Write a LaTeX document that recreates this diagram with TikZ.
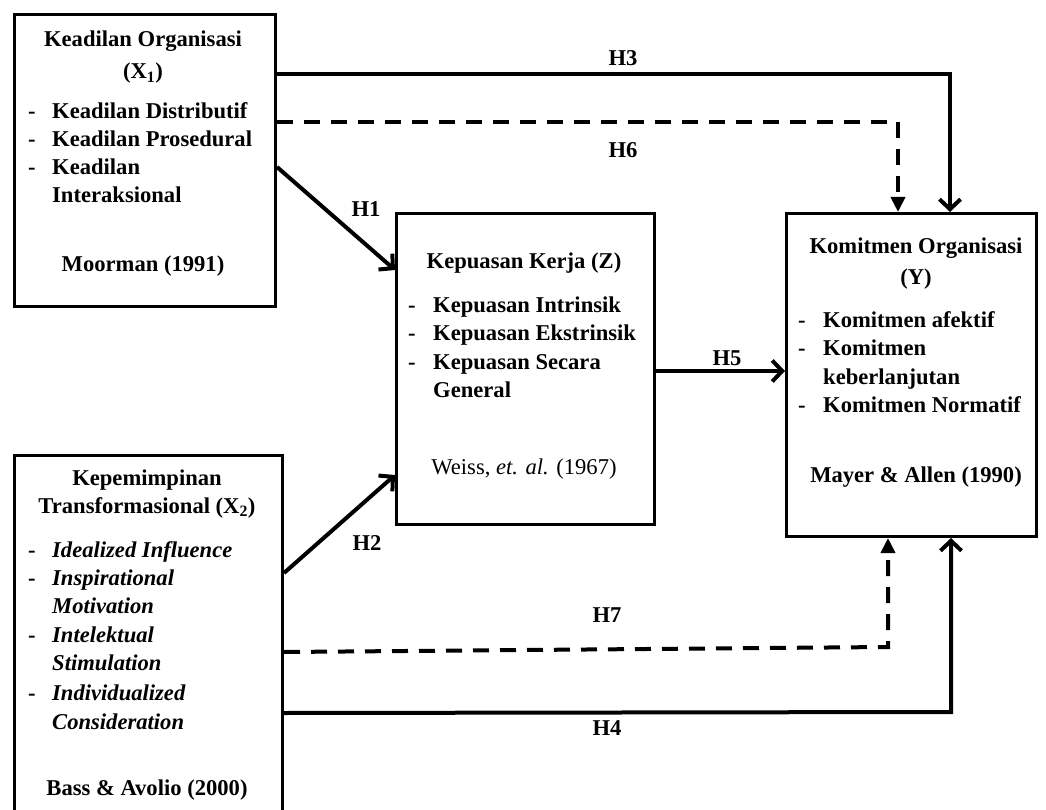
\documentclass[tikz,border=0pt]{standalone}
\usepackage{fontspec}
\setmainfont{Liberation Serif}
\usetikzlibrary{arrows.meta}
\begin{document}
\begin{tikzpicture}[x=1pt,y=-1pt,
  box/.style={draw, line width=3pt, inner sep=0pt, anchor=north west},
  txt/.style={font=\fontsize{22.6}{28}\selectfont\bfseries, inner sep=0pt},
  ttl/.style={txt, anchor=base},
  itm/.style={txt, anchor=base west},
  iti/.style={txt, anchor=base west, font=\fontsize{22.6}{28}\selectfont\bfseries\itshape},
  lbl/.style={txt, anchor=center},
  arr/.style={line width=4pt, -{Straight Barb[length=10pt,width=21pt]}},
  darr/.style={line width=4pt, dash pattern=on 16pt off 11pt, -{Triangle[length=15pt,width=14pt]}}
]
\useasboundingbox (0,0) rectangle (1046,810);
% boxes
\node[box, minimum width=261pt, minimum height=292pt] (x1) at (13,13) {};
\node[box, minimum width=268pt, minimum height=372pt] (x2) at (13,454) {};
\node[box, minimum width=258pt, minimum height=311pt] (z) at (395,212) {};
\node[box, minimum width=250pt, minimum height=323pt] (y) at (785,212) {};
% X1 text
\node[ttl] (x1t1) at (143,47) {Keadilan Organisasi};
\node[ttl] (x1t2) at (143,79) {(X\textsubscript{1})};
\node[itm] (x1d1) at (28,119) {-};
\node[itm] (x1i1) at (52,119) {Keadilan Distributif};
\node[itm] (x1d2) at (28,147) {-};
\node[itm] (x1i2) at (52,147) {Keadilan Prosedural};
\node[itm] (x1d3) at (28,175) {-};
\node[itm] (x1i3) at (52,175) {Keadilan};
\node[itm] (x1i4) at (52,203) {Interaksional};
\node[ttl] (x1s) at (143,272) {Moorman (1991)};
% X2 text
\node[ttl] (x2t1) at (147,485) {Kepemimpinan};
\node[ttl] (x2t2) at (147,513) {Transformasional (X\textsubscript{2})};
\node[itm] (x2d1) at (28,557) {-};
\node[iti] (x2i1) at (52,557) {Idealized Influence};
\node[itm] (x2d2) at (28,585) {-};
\node[iti] (x2i2) at (52,585) {Inspirational};
\node[iti] (x2i3) at (52,613) {Motivation};
\node[itm] (x2d3) at (28,642) {-};
\node[iti] (x2i4) at (52,642) {Intelektual};
\node[iti] (x2i5) at (52,670) {Stimulation};
\node[itm] (x2d4) at (28,700) {-};
\node[iti] (x2i6) at (52,700) {Individualized};
\node[iti] (x2i7) at (52,729) {Consideration};
\node[ttl] (x2s) at (147,795) {Bass \& Avolio (2000)};
% Z text
\node[ttl] (zt) at (524,269) {Kepuasan Kerja (Z)};
\node[itm] (zd1) at (408,312) {-};
\node[itm] (zi1) at (433,312) {Kepuasan Intrinsik};
\node[itm] (zd2) at (408,340) {-};
\node[itm] (zi2) at (433,340) {Kepuasan Ekstrinsik};
\node[itm] (zd3) at (408,369) {-};
\node[itm] (zi3) at (433,369) {Kepuasan Secara};
\node[itm] (zi4) at (433,397) {General};
\node[ttl, font=\fontsize{22.6}{28}\selectfont] (zs) at (524,474) {Weiss, \textit{et. al.} (1967)};
% Y text
\node[ttl] (yt1) at (916,254) {Komitmen Organisasi};
\node[ttl] (yt2) at (916,284) {(Y)};
\node[itm] (yd1) at (798,327) {-};
\node[itm] (yi1) at (823,327) {Komitmen afektif};
\node[itm] (yd2) at (798,355) {-};
\node[itm] (yi2) at (823,355) {Komitmen};
\node[itm] (yi3) at (823,384) {keberlanjutan};
\node[itm] (yd3) at (798,412) {-};
\node[itm] (yi4) at (823,412) {Komitmen Normatif};
\node[ttl] (ys) at (916,482) {Mayer \& Allen (1990)};
% path corner coordinates
\coordinate (h3b) at (950,74);
\coordinate (h6b) at (898,122);
\coordinate (h1s) at (274,167);
\coordinate (h1e) at (395,270);
\coordinate (h2s) at (281,573);
\coordinate (h2e) at (395,475);
\coordinate (h5) at (700,371);
\coordinate (h7a) at (281,652);
\coordinate (h7b) at (888,647);
\coordinate (h4a) at (281,713);
\coordinate (h4b) at (951,712);
% connectors
\draw[arr] (x1.east |- h3b) -- (h3b) -- (h3b |- y.north);
\draw[darr] (x1.east |- h6b) -- (h6b) -- (h6b |- y.north);
\draw[arr] (x1.east |- h1s) -- (z.west |- h1e);
\draw[arr] (x2.east |- h2s) -- (z.west |- h2e);
\draw[arr] (z.east |- h5) -- (y.west |- h5);
\draw[darr] (x2.east |- h7a) -- (h7b) -- (h7b |- y.south);
\draw[arr] (x2.east |- h4a) -- (h4b) -- (h4b |- y.south);
% labels
\node[lbl] (l3) at (623,58) {H3};
\node[lbl] (l6) at (623,150) {H6};
\node[lbl] (l1) at (366,209) {H1};
\node[lbl] (l2) at (367,543) {H2};
\node[lbl] (l5) at (727,358) {H5};
\node[lbl] (l7) at (607,615) {H7};
\node[lbl] (l4) at (607,728) {H4};
\end{tikzpicture}
\end{document}
